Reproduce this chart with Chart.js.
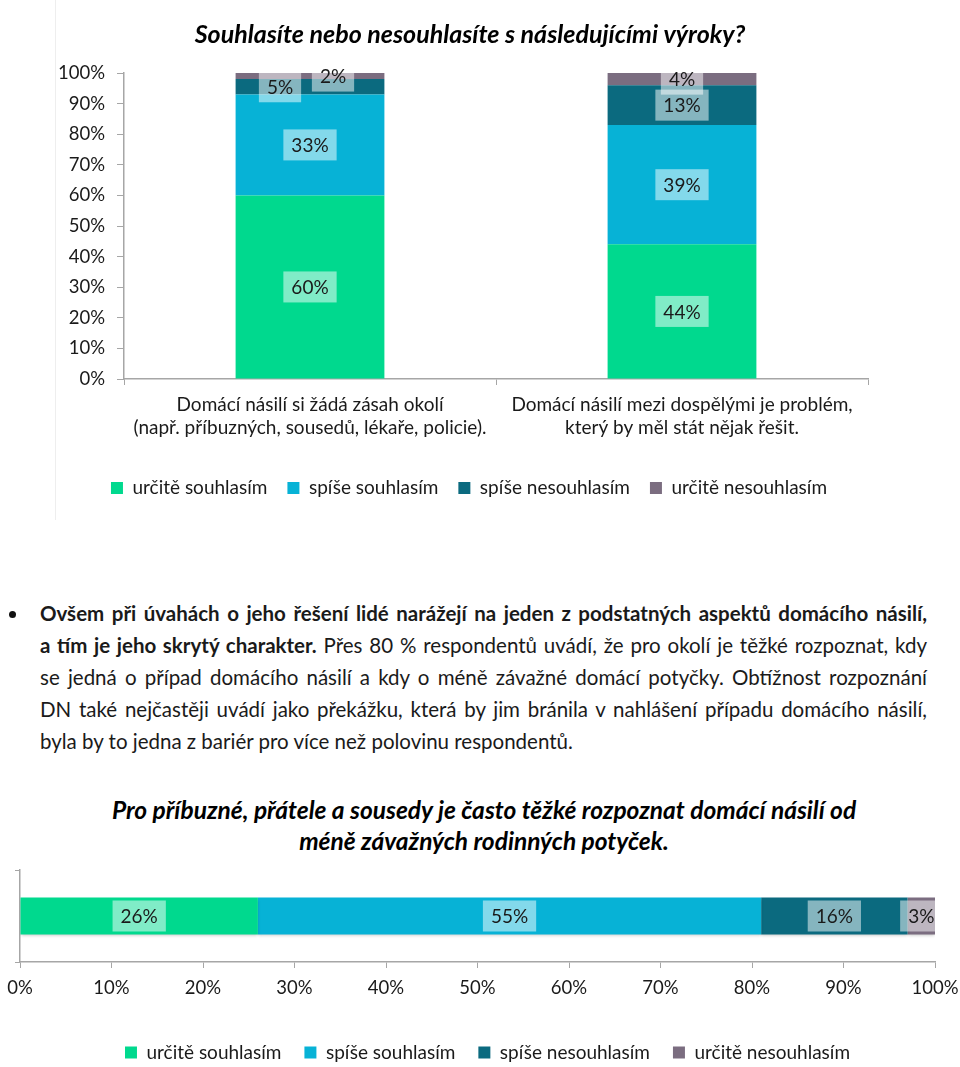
<!DOCTYPE html>
<html lang="cs">
<head>
<meta charset="utf-8">
<title>Souhlasíte nebo nesouhlasíte s následujícími výroky?</title>
<script src="https://cdn.jsdelivr.net/npm/chart.js@4.4.1/dist/chart.umd.min.js"></script>
<style>
  body { margin: 0; width: 960px; height: 1067px; position: relative; overflow: hidden; background: #fff;
         font-family: Lato, "Open Sans", sans-serif; color: #1a1a1a; }
  #c1 { position: absolute; left: 0; top: 0; }
  #c2 { position: absolute; left: 0; top: 850px; }
  .frame { position: absolute; left: 55px; top: 0; width: 1px; height: 520px; background: #eeeeee; }
  .bullet { position: absolute; left: 9px; top: 611px; width: 7px; height: 7px; border-radius: 50%; background: #111; }
  .para { position: absolute; left: 40px; top: 597px; width: 887px; font-size: 20.5px; line-height: 32px; }
  .para div { white-space: nowrap; text-align: justify; text-align-last: justify; }
  .para div.last { text-align-last: left; }
  .title2 { position: absolute; left: 10px; top: 794px; width: 948px; text-align: center; font-size: 24.5px;
            line-height: 31px; font-weight: bold; font-style: italic; color: #000; }
</style>
</head>
<body>
<div class="frame"></div>
<canvas id="c1" width="960" height="520"></canvas>

<div class="bullet"></div>
<div class="para">
  <div><b>Ovšem při úvahách o jeho řešení lidé narážejí na jeden z podstatných aspektů domácího násilí,</b></div>
  <div><b>a tím je jeho skrytý charakter.</b> Přes 80 % respondentů uvádí, že pro okolí je těžké rozpoznat, kdy</div>
  <div>se jedná o případ domácího násilí a kdy o méně závažné domácí potyčky. Obtížnost rozpoznání</div>
  <div>DN také nejčastěji uvádí jako překážku, která by jim bránila v nahlášení případu domácího násilí,</div>
  <div class="last">byla by to jedna z bariér pro více než polovinu respondentů.</div>
</div>

<div class="title2">Pro příbuzné, přátele a sousedy je často těžké rozpoznat domácí násilí od<br>méně závažných rodinných potyček.</div>

<canvas id="c2" width="960" height="230"></canvas>

<script>
// answer scale (same for both charts)
var seriesNames = ['určitě souhlasím', 'spíše souhlasím', 'spíše nesouhlasím', 'určitě nesouhlasím'];
var seriesColors = ['#00d98e', '#07b2d6', '#0b6a7f', '#7b6d80'];

// top chart - two statements
var topCategories = [
  ['Domácí násilí si žádá zásah okolí', '(např. příbuzných, sousedů, lékaře, policie).'],
  ['Domácí násilí mezi dospělými je problém,', 'který by měl stát nějak řešit.']
];
var topAgreeSure = [60, 44];
var topAgreeRather = [33, 39];
var topDisagreeRather = [5, 13];
var topDisagreeSure = [2, 4];

// bottom chart - one statement
var bottomCategory = [''];
var bottomAgreeSure = [26];
var bottomAgreeRather = [55];
var bottomDisagreeRather = [16];
var bottomDisagreeSure = [3];

var tickStep = 10; // percent axis ticks 0% .. 100%

var txtColor = '#1a1a1a';
var axisColor = '#a6a6a6';
var fontFam = 'Lato';

function makeSets(values) {
  return values.map(function (v, i) {
    return {
      label: seriesNames[i],
      data: v,
      backgroundColor: seriesColors[i],
      borderWidth: 0,
      barPercentage: 0.4,
      categoryPercentage: 1
    };
  });
}

// value labels with the pale box behind them (like Excel data labels)
var labelBoxes = {
  id: 'labelBoxes',
  afterDatasetsDraw: function (chart, args, opts) {
    var ctx = chart.ctx;
    var shift = opts.shift || {};
    ctx.save();
    ctx.font = '19px ' + fontFam;
    ctx.textAlign = 'center';
    ctx.textBaseline = 'middle';
    chart.data.datasets.forEach(function (ds, di) {
      chart.getDatasetMeta(di).data.forEach(function (bar, i) {
        var txt = ds.data[i] + '%';
        var c = bar.getCenterPoint();
        var x = c.x + (shift[di + '-' + i] || 0);
        var w = ctx.measureText(txt).width + 16;
        ctx.fillStyle = 'rgba(255,255,255,0.5)';
        ctx.fillRect(x - w / 2, c.y - 15.5, w, 31);
        ctx.fillStyle = txtColor;
        ctx.fillText(txt, x, c.y + 1);
      });
    });
    ctx.restore();
  }
};

// soft shadow under the horizontal bar
var barShadow = {
  id: 'barShadow',
  beforeDatasetsDraw: function (chart) {
    var ctx = chart.ctx;
    ctx.save();
    ctx.shadowColor = 'rgba(0,0,0,0.22)';
    ctx.shadowBlur = 3;
    ctx.shadowOffsetY = 2;
  },
  afterDatasetsDraw: function (chart) {
    chart.ctx.restore();
  }
};

// slide title / legend sideways a little (Excel centres them on its own frame)
var nudgeBlocks = {
  id: 'nudgeBlocks',
  afterLayout: function (chart, args, opts) {
    if (opts.title && chart.titleBlock) {
      chart.titleBlock.left += opts.title;
      chart.titleBlock.right += opts.title;
    }
    if (opts.legend && chart.legend) {
      chart.legend.left += opts.legend;
      chart.legend.right += opts.legend;
    }
  }
};

function pct(v) { return v + '%'; }

new Chart(document.getElementById('c1'), {
  type: 'bar',
  data: {
    labels: topCategories,
    datasets: makeSets([topAgreeSure, topAgreeRather, topDisagreeRather, topDisagreeSure])
  },
  options: {
    responsive: false,
    animation: false,
    layout: { padding: { left: 54, right: 92, top: 0, bottom: 12.5 } },
    plugins: {
      title: {
        display: true,
        text: 'Souhlasíte nebo nesouhlasíte s následujícími výroky?',
        color: '#000',
        font: { family: fontFam, size: 25, weight: 'bold', style: 'italic', lineHeight: 1.2 },
        padding: { top: 20, bottom: 23 }
      },
      legend: {
        position: 'bottom',
        labels: { boxWidth: 12, boxHeight: 12, padding: 20, color: txtColor, font: { family: fontFam, size: 19 } }
      },
      tooltip: { enabled: false },
      labelBoxes: { shift: { '2-0': -30, '3-0': 23 } },
      nudgeBlocks: { title: 9, legend: 8 }
    },
    scales: {
      x: {
        stacked: true,
        grid: { drawOnChartArea: false, tickLength: 6, color: axisColor, offset: true },
        border: { color: axisColor, width: 1.5 },
        ticks: { color: txtColor, padding: 8.5, maxRotation: 0, autoSkip: false,
                 font: { family: fontFam, size: 19, lineHeight: 1.21 } },
        afterFit: function (s) { s.height = 79.5; }
      },
      y: {
        stacked: true,
        min: 0,
        max: 100,
        grid: { drawOnChartArea: false, tickLength: 7, color: axisColor },
        border: { color: axisColor, width: 1.5 },
        ticks: { stepSize: tickStep, callback: pct, color: txtColor, padding: 12,
                 font: { family: fontFam, size: 18.5 } },
        afterFit: function (s) { s.width = 70; }
      }
    }
  },
  plugins: [labelBoxes, nudgeBlocks]
});

new Chart(document.getElementById('c2'), {
  type: 'bar',
  data: {
    labels: bottomCategory,
    datasets: makeSets([bottomAgreeSure, bottomAgreeRather, bottomDisagreeRather, bottomDisagreeSure])
  },
  options: {
    indexAxis: 'y',
    responsive: false,
    animation: false,
    layout: { padding: { left: 12, right: 25, top: 20, bottom: 8 } },
    plugins: {
      legend: {
        position: 'bottom',
        labels: { boxWidth: 12, boxHeight: 12, padding: 23, color: txtColor, font: { family: fontFam, size: 19 } }
      },
      tooltip: { enabled: false },
      labelBoxes: {},
      nudgeBlocks: { legend: 14 }
    },
    scales: {
      x: {
        stacked: true,
        min: 0,
        max: 100,
        grid: { drawOnChartArea: false, tickLength: 6, color: axisColor },
        border: { color: axisColor, width: 1.5 },
        ticks: { stepSize: tickStep, callback: pct, color: txtColor, padding: 8.9,
                 font: { family: fontFam, size: 18.5 } },
        afterFit: function (s) {
          s.height = 58;
          // let the "100%" label hang over the edge like in Excel
          s.paddingLeft = 0;
          s.paddingRight = 0;
        }
      },
      y: {
        stacked: true,
        grid: { drawOnChartArea: false, tickLength: 5, color: axisColor, offset: true },
        border: { color: axisColor, width: 1.5 },
        ticks: { display: false },
        afterFit: function (s) { s.width = 8; }
      }
    }
  },
  plugins: [barShadow, labelBoxes, nudgeBlocks]
});
</script>
</body>
</html>
